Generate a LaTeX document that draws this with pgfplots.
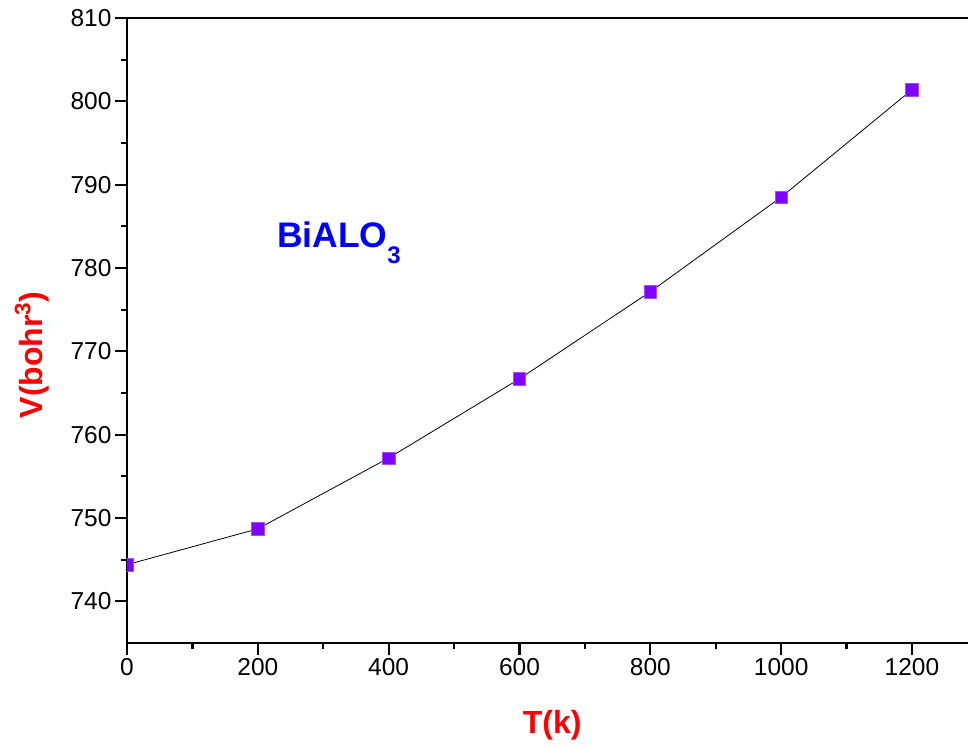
\documentclass[border=0pt]{standalone}
\usepackage{fontspec}
\setmainfont{Liberation Sans}
\usepackage{pgfplots}
\pgfplotsset{compat=1.18}
\definecolor{mk}{RGB}{128,0,255}
\begin{document}
\begin{tikzpicture}
\begin{axis}[name=ax, scale only axis, width=850.4pt, height=625pt,
 xmin=0, xmax=1300, ymin=735, ymax=810,
 xtick={0,200,...,1200}, ytick={740,750,...,810},
 minor x tick num=1, minor y tick num=1,
 tick align=outside, xtick pos=left, ytick pos=left,
 major tick length=12pt, minor tick length=6pt,
 every tick/.style={black, line width=2.2pt},
 axis line style={line width=2.4pt},
 clip marker paths=true,
 tick label style={font=\fontsize{24.5}{28}\selectfont},
 /pgf/number format/assume math mode=true,
 /pgf/number format/1000 sep={},
 xlabel={T(k)}, ylabel={V(bohr\raisebox{3pt}{\textsuperscript{3}})},
 label style={font=\fontsize{32}{36}\selectfont\bfseries, text=red},
 xlabel style={at={(axis description cs:0.5,-0.131)}, anchor=center},
 ylabel style={at={(axis description cs:-0.1117,0.461)}, anchor=center},
]
\addplot[black, line width=0.8pt, mark=square*, mark size=6.2pt,
  mark options={fill=mk, draw=mk!70!white, line width=0.6pt}]
  coordinates {(0,744.4) (200,748.7) (400,757.2) (600,766.7) (800,777.15) (1000,788.5) (1200,801.4)};
\node[anchor=base west, inner sep=0pt, text=blue, font=\fontsize{35.5}{40}\selectfont\bfseries]
  at (axis cs:229,782.5) {BiALO\raisebox{-16pt}{\fontsize{24}{28}\selectfont 3}};
\end{axis}
\pgfresetboundingbox
\path ([shift={(-127pt,-104pt)}]ax.south west) rectangle ([shift={(-9.4pt,18pt)}]ax.north east);
\end{tikzpicture}
\end{document}
